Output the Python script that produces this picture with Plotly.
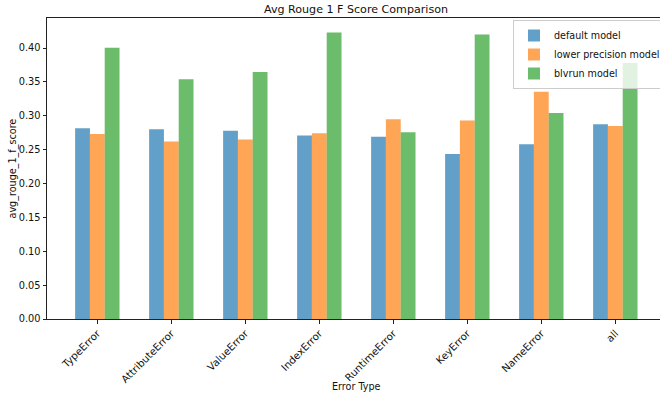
import plotly.graph_objects as go

categories = ["TypeError", "AttributeError", "ValueError", "IndexError",
              "RuntimeError", "KeyError", "NameError", "all"]
default_model = [0.2815, 0.280, 0.278, 0.271, 0.269, 0.2435, 0.258, 0.2873]
lower_precision_model = [0.273, 0.262, 0.265, 0.274, 0.295, 0.293, 0.3355, 0.285]
blvrun_model = [0.4005, 0.354, 0.3645, 0.423, 0.2755, 0.420, 0.304, 0.378]

series_names = ["default model", "lower precision model", "blvrun model"]
series_colors = ["rgba(31,119,180,0.7)", "rgba(255,127,14,0.7)", "rgba(44,160,44,0.7)"]

W, H = 660, 394
L, R, T, B = 47, 0, 18, 75
PW, PH = W - L - R, H - T - B

x_idx = list(range(len(categories)))

fig = go.Figure()
for name, vals, col in zip(series_names,
                           [default_model, lower_precision_model, blvrun_model],
                           series_colors):
    fig.add_trace(go.Bar(x=x_idx, y=vals, name=name,
                         marker=dict(color=col, line=dict(width=0))))

font_family = "DejaVu Sans"
fs = 9.6
fig.update_layout(
    width=W, height=H, autosize=False,
    margin=dict(l=L, r=R, t=T, b=B, pad=0, autoexpand=False),
    paper_bgcolor="white", plot_bgcolor="white",
    barmode="group", bargap=0.4, bargroupgap=0,
    font=dict(family=font_family, size=fs, color="#111"),
    title=dict(text="Avg Rouge 1 F Score Comparison",
               font=dict(size=11.1, color="#111"),
               xref="container", x=356 / W, xanchor="center",
               yref="container", y=1 - 9 / H, yanchor="middle"),
    xaxis=dict(
        range=[-0.68, 7.604], tickmode="array", tickvals=x_idx,
        ticktext=categories, tickangle=-45, automargin=False,
        tickfont=dict(size=10.2),
        showline=True, linecolor="#222", linewidth=1, mirror=True,
        ticks="outside", ticklen=3.5, tickcolor="#222",
        showgrid=False, zeroline=False,
    ),
    yaxis=dict(
        range=[0, 0.4443], tickmode="array", automargin=False,
        tickvals=[0, 0.05, 0.1, 0.15, 0.2, 0.25, 0.3, 0.35, 0.4],
        tickformat=".2f", tickfont=dict(size=9.8),
        showline=True, linecolor="#222", linewidth=1, mirror=False,
        ticks="outside", ticklen=3.5, tickcolor="#222",
        showgrid=False, zeroline=False,
    ),
    legend=dict(x=(513 - L) / PW, xanchor="left",
                y=(H - B - 20) / PH, yanchor="top",
                bgcolor="rgba(255,255,255,0.8)", bordercolor="#cccccc",
                borderwidth=1, font=dict(size=9.6),
                tracegroupgap=0, itemwidth=30),
    annotations=[
        dict(text="Error Type", xref="paper", yref="paper",
             x=(356 - L) / PW, y=-(386 - (T + PH)) / PH,
             xanchor="center", yanchor="middle", showarrow=False,
             font=dict(size=fs)),
        dict(text="avg_rouge_1_f_score", xref="paper", yref="paper",
             x=-(L - 12) / PW, y=(T + PH - 168.5) / PH,
             xanchor="center", yanchor="middle", showarrow=False,
             textangle=-90, font=dict(size=fs)),
    ],
)

fig.write_html("out.html", config={"displayModeBar": False},
               post_script="document.body.style.margin='0';document.body.style.overflow='hidden';")
